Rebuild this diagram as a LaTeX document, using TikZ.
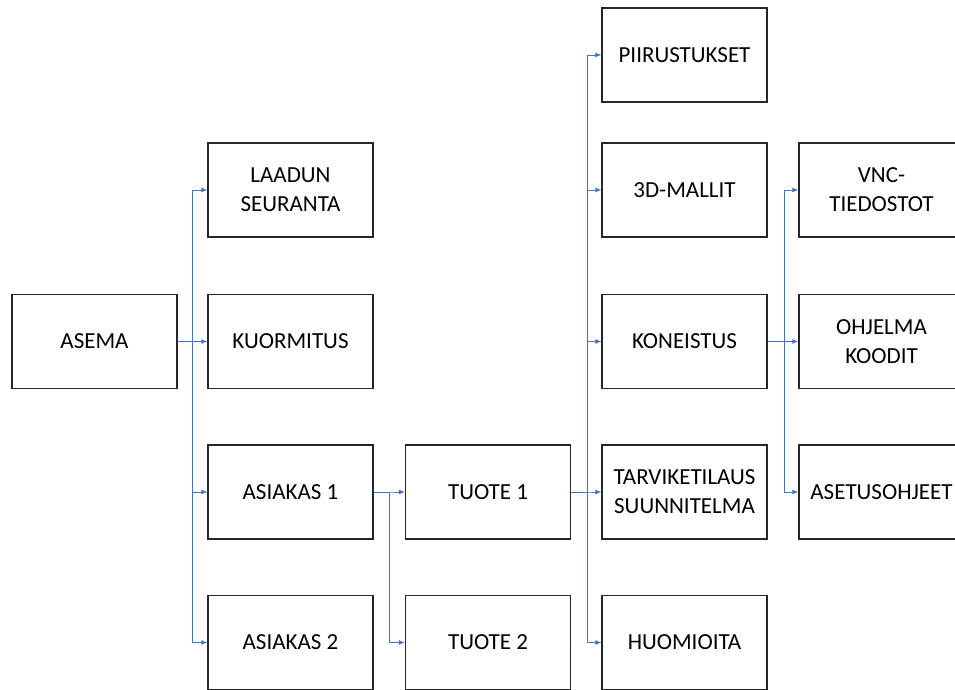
\documentclass[tikz,border=0pt]{standalone}
\usepackage{fontspec}
\setmainfont{Carlito}
\usetikzlibrary{arrows.meta}
\definecolor{conblue}{HTML}{4472C4}
\tikzset{
  box/.style={draw=black!85, line width=1.3pt, fill=white, minimum width=165pt, minimum height=94pt,
    inner sep=0pt, align=center, font=\fontsize{23}{29}\selectfont, text=black},
  conn/.style={draw=conblue, line width=0.9pt, -{Latex[length=6pt,width=5pt]}}
}
\begin{document}
\begin{tikzpicture}[x=1pt,y=-1pt]
\useasboundingbox (0,0) rectangle (955,690);
\clip (0,0) rectangle (955,690);
\node[box] (asema) at (94.5,341.5) {ASEMA};
\node[box] (laadun) at (290.5,190) {LAADUN\\SEURANTA};
\node[box] (kuorm) at (290.5,341.5) {KUORMITUS};
\node[box] (as1) at (290.5,492) {ASIAKAS 1};
\node[box] (as2) at (290.5,642.5) {ASIAKAS 2};
\node[box] (tu1) at (488,492) {TUOTE 1};
\node[box] (tu2) at (488,642.5) {TUOTE 2};
\node[box] (piir) at (684.5,55) {PIIRUSTUKSET};
\node[box] (malli) at (684.5,190) {3D-MALLIT};
\node[box] (kone) at (684.5,341.5) {KONEISTUS};
\node[box] (tarv) at (684.5,492) {TARVIKETILAUS\\SUUNNITELMA};
\node[box] (huom) at (684.5,642.5) {HUOMIOITA};
\node[box] (vnc) at (881.5,190) {VNC-\\TIEDOSTOT};
\node[box] (ohj) at (881.5,341.5) {OHJELMA\\KOODIT};
\node[box] (aset) at (881.5,492) {ASETUSOHJEET};
\foreach \t in {laadun,kuorm,as1,as2}
  \draw[conn] (asema.east) -- ++(15,0) |- (\t.west);
\foreach \t in {tu1,tu2}
  \draw[conn] (as1.east) -- ++(16,0) |- (\t.west);
\foreach \t in {piir,malli,kone,tarv,huom}
  \draw[conn] (tu1.east) -- ++(16,0) |- (\t.west);
\foreach \t in {vnc,ohj,aset}
  \draw[conn] (kone.east) -- ++(17,0) |- (\t.west);
\end{tikzpicture}
\end{document}
